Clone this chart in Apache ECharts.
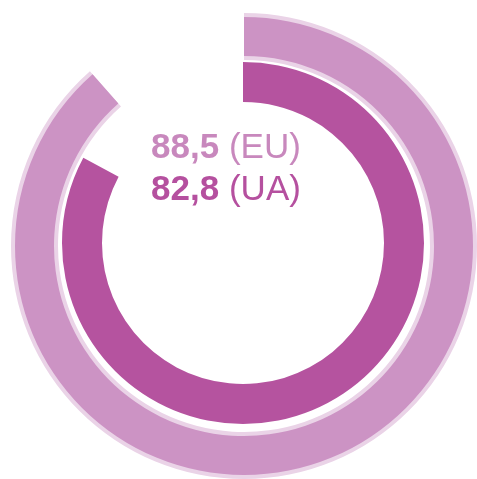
<!DOCTYPE html>
<html lang="en">

<head>
    <meta charset="UTF-8">
    <title>EU / UA</title>
    <script src="https://cdn.jsdelivr.net/npm/echarts@6/dist/echarts.min.js"></script>
    <style>
        html, body { margin: 0; padding: 0; background: #fff; }
        #main { width: 477px; height: 479px; }
    </style>
</head>

<body>
    <div id="main"></div>
    <script>
        // values (percent)
        const names = ['EU', 'UA'];
        const values = [88.5, 82.8];
        const colors = ['#cc93c4', '#b5539f'];
        const textColors = ['#c888bd', '#b5509f'];
        const borderColor = '#ead3e7';

        const fmt = v => v.toFixed(1).replace('.', ',');

        const myChart = echarts.init(document.getElementById('main'));

        function ring(value, radius, center, color) {
            return {
                type: 'pie',
                silent: true,
                startAngle: 90,
                clockwise: true,
                radius: radius,
                center: center,
                label: { show: false },
                labelLine: { show: false },
                emphasis: { disabled: true },
                data: [
                    { value: value, itemStyle: { color: color } },
                    { value: 100 - value, itemStyle: { color: 'rgba(0,0,0,0)' } }
                ]
            };
        }

        function line(i, y) {
            return {
                type: 'text',
                x: 226,
                y: y,
                style: {
                    text: '{n|' + fmt(values[i]) + '}{t|\u00a0(' + names[i] + ')}',
                    align: 'center',
                    verticalAlign: 'middle',
                    rich: {
                        n: { fontFamily: 'Liberation Sans', fontSize: 35, fontWeight: 'bold', fill: textColors[i] },
                        t: { fontFamily: 'Liberation Sans', fontSize: 35, fill: textColors[i] }
                    }
                }
            };
        }

        const option = {
            animation: false,
            series: [
                ring(values[0], [186, 233], [244, 246], borderColor),
                ring(values[0], [190, 229], [244, 246], colors[0]),
                ring(values[1], [141, 181], [243, 243], colors[1])
            ],
            graphic: [line(0, 148), line(1, 190)]
        };
        myChart.setOption(option);
    </script>
</body>

</html>
